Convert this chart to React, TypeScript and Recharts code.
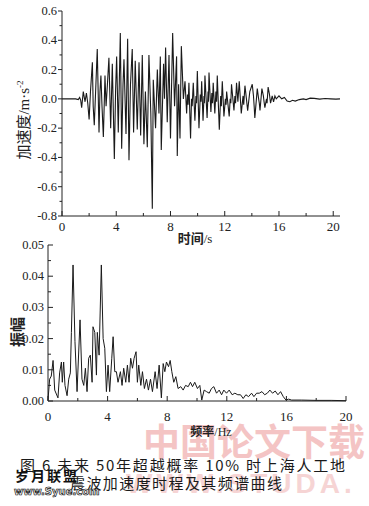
import React from 'react'
import { LineChart, Line, XAxis, YAxis } from 'recharts'

// 加速度时程 (s, m·s^-2)
const TIME_S = [
  0, 0.5, 1.0, 1.2, 1.3, 1.38, 1.45, 1.57, 1.7, 1.8, 1.9, 2.0, 2.1, 2.24, 2.3, 2.38, 2.5, 2.6, 2.73, 2.8,
  2.87, 2.95, 3.05, 3.17, 3.25, 3.35, 3.46, 3.59, 3.71, 3.86, 3.95, 4.03, 4.15, 4.3, 4.4, 4.5, 4.57, 4.72,
  4.84, 4.94, 5.05, 5.18, 5.28, 5.4, 5.55, 5.68, 5.8, 5.92, 6.04, 6.15, 6.29, 6.41, 6.55, 6.66, 6.73, 6.9,
  7.03, 7.15, 7.25, 7.32, 7.49, 7.56, 7.64, 7.76, 7.89, 8.0, 8.16, 8.3, 8.45, 8.5, 8.6, 8.7, 8.8, 8.95,
  9.07, 9.19, 9.25, 9.3, 9.36, 9.48, 9.55, 9.6, 9.68, 9.8, 9.88, 9.92, 9.98, 10.1, 10.2, 10.25, 10.3, 10.4,
  10.47, 10.5, 10.54, 10.7, 10.77, 10.8, 10.84, 10.98, 11.05, 11.1, 11.15, 11.27, 11.35, 11.4, 11.45, 11.6,
  11.7, 11.75, 11.82, 11.94, 12.05, 12.1, 12.14, 12.33, 12.4, 12.45, 12.5, 12.68, 12.75, 12.8, 12.87, 12.97,
  13.07, 13.22, 13.35, 13.4, 13.49, 13.6, 13.69, 13.85, 14.03, 14.12, 14.17, 14.22, 14.4, 14.5, 14.55, 14.6,
  14.74, 14.85, 14.9, 14.96, 15.08, 15.12, 15.2, 15.3, 15.38, 15.5, 15.6, 15.7, 15.8, 16.0, 16.2, 16.4, 16.6,
  16.8, 17.0, 17.2, 17.5, 17.8, 18.0, 18.3, 18.6, 19.0, 19.4, 19.8, 20.2, 20.5,
]
const ACCEL = [
  0, 0, 0, -0.005, 0.01, -0.01, -0.06, 0.05, -0.02, 0.04, -0.03, -0.14, 0.05, 0.25, -0.05, -0.18, 0.1, 0.34, -0.23, 0.05,
  0.16, -0.05, -0.26, 0.16, -0.05, 0.1, 0.28, -0.2, 0.24, -0.41, 0.05, 0.29, -0.23, 0.45, -0.34, 0.1, 0.27, -0.24,
  0.41, -0.42, 0.1, 0.34, -0.23, 0.26, -0.21, 0.25, -0.25, 0.3, -0.31, 0.05, -0.33, 0.3, -0.1, -0.75, 0.13, -0.2,
  0.2, -0.1, 0.29, -0.35, 0.24, 0.0, 0.35, -0.16, 0.3, -0.27, 0.45, -0.05, 0.29, -0.39, 0.1, -0.27, 0.36, 0.0,
  0.12, -0.1, 0.03, -0.04, 0.11, -0.27, 0.0, -0.05, 0.11, -0.15, 0.02, -0.03, 0.19, -0.2, 0.03, -0.02, 0.12, -0.15,
  0.02, -0.03, 0.16, -0.13, 0.05, -0.02, 0.18, -0.09, 0.04, -0.03, 0.11, -0.1, 0.05, -0.02, 0.16, -0.21,
  0.02, -0.05, 0.12, -0.12, 0.0, -0.04, 0.05, -0.12, 0.0, -0.03, 0.1, -0.08, 0.02, -0.03, 0.11, -0.02,
  0.12, -0.1, 0.02, -0.04, 0.09, 0.0, -0.08, 0.05, 0.1, 0.02, -0.05, -0.13, 0.07, 0.0, -0.03, -0.08,
  0.07, 0.02, -0.02, -0.06, 0.0, -0.03, 0.08, 0.03, -0.03, 0.02, -0.02, 0.02, 0.0, 0.02, 0.0, 0.01, -0.015,
  -0.02, -0.01, -0.015, -0.005, 0.0, -0.005, 0.005, 0.003, -0.002, 0.002, 0, -0.002, 0,
]

// 频谱 (Hz, 振幅)
const FREQ_HZ = [
  0, 0.11, 0.22, 0.34, 0.45, 0.67, 0.78, 0.9, 0.96, 1.05, 1.14, 1.28, 1.39, 1.5, 1.57, 1.68, 1.81, 1.95,
  2.15, 2.28, 2.4, 2.51, 2.62, 2.73, 2.84, 2.96, 3.02, 3.14, 3.25, 3.31, 3.43, 3.58, 3.7, 3.81, 3.92,
  4.03, 4.14, 4.28, 4.37, 4.48, 4.59, 4.7, 4.86, 4.97, 5.08, 5.22, 5.33, 5.44, 5.55, 5.67, 5.78, 5.91,
  6.0, 6.09, 6.23, 6.34, 6.47, 6.61, 6.74, 6.88, 7.01, 7.19, 7.32, 7.46, 7.61, 7.73, 7.84, 7.95, 8.09,
  8.2, 8.31, 8.44, 8.58, 8.73, 8.91, 9.07, 9.23, 9.41, 9.56, 9.7, 9.85, 10.03, 10.19, 10.32, 10.48,
  10.64, 10.82, 10.97, 11.13, 11.31, 11.49, 11.65, 11.8, 11.98, 12.16, 12.36, 12.54, 12.74, 12.92,
  13.1, 13.28, 13.46, 13.66, 13.82, 14.0, 14.18, 14.36, 14.54, 14.72, 14.89, 15.07, 15.25, 15.43,
  15.61, 15.79, 15.97, 16.15, 16.35, 17, 18, 19, 20,
]
const AMPL = [
  0.0003, 0.007, 0.008, 0.013, 0.0035, 0.001, 0.009, 0.0125, 0.006, 0.0125, 0.005, 0.0017, 0.007, 0.009, 0.022, 0.0436, 0.019, 0.003,
  0.026, 0.007, 0.005, 0.0105, 0.003, 0.0137, 0.0147, 0.006, 0.0238, 0.022, 0.0083, 0.022, 0.0147, 0.0436, 0.02, 0.0169, 0.003,
  0.0115, 0.003, 0.0137, 0.0206, 0.0094, 0.0094, 0.006, 0.0094, 0.005, 0.0105, 0.006, 0.0115, 0.006, 0.0137, 0.0105, 0.0137, 0.0158,
  0.006, 0.0115, 0.005, 0.0094, 0.004, 0.007, 0.0035, 0.007, 0.003, 0.0094, 0.004, 0.0115, 0.001, 0.012, 0.0094, 0.0125, 0.011,
  0.013, 0.0094, 0.006, 0.0078, 0.004, 0.0046, 0.0035, 0.005, 0.0046, 0.006, 0.0046, 0.006, 0.004, 0.005, 0.0003, 0.0035,
  0.003, 0.0025, 0.004, 0.0046, 0.0025, 0.0035, 0.002, 0.0035, 0.0025, 0.0035, 0.002, 0.0025, 0.002, 0.002,
  0.0008, 0.002, 0.0014, 0.0025, 0.0014, 0.0025, 0.0025, 0.003, 0.002, 0.0025, 0.0035, 0.0025, 0.0032, 0.002,
  0.003, 0.0014, 0.0003, 0.0006, 0.0003, 0.0003, 0.0002, 0.0002, 0.0001,
]

const TIME_TICKS = [0, 2, 4, 6, 8, 10, 12, 14, 16, 18, 20]
const ACCEL_TICKS = [-0.8, -0.7, -0.6, -0.5, -0.4, -0.3, -0.2, -0.1, 0, 0.1, 0.2, 0.3, 0.4, 0.5, 0.6]
const FREQ_TICKS = [0, 2, 4, 6, 8, 10, 12, 14, 16, 18, 20]
const AMPL_TICKS = [0, 0.005, 0.01, 0.015, 0.02, 0.025, 0.03, 0.035, 0.04, 0.045, 0.05]

const accelData = TIME_S.map((t, i) => ({ t, a: ACCEL[i] }))
const specData = FREQ_HZ.map((f, i) => ({ f, amp: AMPL[i] }))

const INK = '#222'
const SERIF = "'Liberation Serif', 'Times New Roman', 'DejaVu Serif', serif"
const CJK = "'Noto Sans CJK SC', sans-serif"
const serifStyle = { fontFamily: SERIF }
const cjkStyle = { fontFamily: CJK }

const isMajorX = (v: number) => Math.round(v) % 4 === 0

// bottom axis tick pointing up into the plot
const bottomTick = (labelDy: number) => (props: any) => {
  const { x, y, payload } = props
  const major = isMajorX(payload.value)
  return (
    <g>
      <line x1={x} y1={y} x2={x} y2={y - (major ? 5 : 3)} stroke={INK} />
      {major && (
        <text x={x} y={y + labelDy} textAnchor="middle" fontSize={13} style={serifStyle} fill={INK}>
          {payload.value}
        </text>
      )}
    </g>
  )
}

const topTick = (props: any) => {
  const { x, y, payload } = props
  const major = isMajorX(payload.value)
  return <line x1={x} y1={y} x2={x} y2={y + (major ? 5 : 3)} stroke={INK} />
}

const accelLeftTick = (props: any) => {
  const { x, y, payload } = props
  const major = Math.round(payload.value * 10) % 2 === 0
  return (
    <g>
      <line x1={x} y1={y} x2={x - (major ? 4 : 2.5)} y2={y} stroke={INK} />
      {major && (
        <text x={x - 5} y={y + 4} textAnchor="end" fontSize={12.5} style={serifStyle} fill={INK}>
          {payload.value.toFixed(1)}
        </text>
      )}
    </g>
  )
}

const ampLeftTick = (props: any) => {
  const { x, y, payload } = props
  const major = Math.round(payload.value * 1000) % 10 === 0
  return (
    <g>
      <line x1={x} y1={y} x2={x + (major ? 5 : 3)} y2={y} stroke={INK} />
      {major && (
        <text x={x - 4} y={y + 4} textAnchor="end" fontSize={12.5} style={serifStyle} fill={INK}>
          {payload.value.toFixed(2)}
        </text>
      )}
    </g>
  )
}

const ampRightTick = (props: any) => {
  const { x, y, payload } = props
  const major = Math.round(payload.value * 1000) % 10 === 0
  return <line x1={x} y1={y} x2={x - (major ? 5 : 3)} y2={y} stroke={INK} />
}

export default function App() {
  return (
    <div style={{ position: 'absolute', left: 0, top: 0, width: 369, height: 506, background: '#fff', overflow: 'hidden' }}>
      <svg width={369} height={506} style={{ position: 'absolute', left: 0, top: 0 }}>
        {/* watermarks */}
        <text x={143} y={456} fontSize={37} fontWeight={700} style={cjkStyle} fill="#f4c4c4">中国论文下载</text>
        <text x={126} y={493} fontSize={28} fontWeight={700} style={{ fontFamily: "'Liberation Sans', sans-serif" }}
          fill="#f6d4d4" letterSpacing={4}>WWW.STUDA.</text>

        {/* axis titles */}
        <text transform="translate(29,120) rotate(-90)" textAnchor="middle" fontSize={15} style={cjkStyle} fill={INK}>
          加速度<tspan style={serifStyle}>/m·s</tspan><tspan style={serifStyle} fontSize={9} dy={-6}>-2</tspan>
        </text>
        <text x={195} y={243} textAnchor="middle" fontSize={13} fontWeight={700} style={cjkStyle} fill={INK}>
          时间<tspan style={serifStyle} fontWeight={400}>/s</tspan>
        </text>
        <text transform="translate(23,332) rotate(-90)" textAnchor="middle" fontSize={15} fontWeight={700} style={cjkStyle} fill={INK}>
          振幅
        </text>
        <text x={211} y={436} textAnchor="middle" fontSize={12} fontWeight={700} style={cjkStyle} fill={INK}>
          频率<tspan style={serifStyle} fontWeight={400}>/Hz</tspan>
        </text>

        {/* caption */}
        <text x={20} y={471} fontSize={15} style={cjkStyle} fill="#1a1a1a" textLength={325} lengthAdjust="spacing">
          图 6  未来 50年超越概率 10% 时上海人工地
        </text>
        <text x={70} y={489} fontSize={15} style={cjkStyle} fill="#1a1a1a" textLength={212} lengthAdjust="spacing">
          震波加速度时程及其频谱曲线
        </text>
        <text x={15} y={481} fontSize={14} fontWeight={700} style={cjkStyle} fill="#111" letterSpacing={2}>岁月联盟</text>
        <text x={14} y={495} fontSize={10} fontWeight={700} style={{ fontFamily: "'DejaVu Sans', sans-serif" }}
          fill="#fff" stroke="#111" strokeWidth={0.7}>www.Syue.com</text>
      </svg>

      <div style={{ position: 'absolute', left: 0, top: 0 }}>
        <LineChart width={369} height={240} data={accelData} margin={{ top: 11, right: 29, bottom: 0, left: 0 }}>
          <XAxis
            type="number"
            dataKey="t"
            domain={[0, 20.5]}
            ticks={TIME_TICKS}
            interval={0}
            height={24}
            tickSize={0}
            tickMargin={0}
            tickLine={false}
            axisLine={{ stroke: INK }}
            tick={bottomTick(15)}
          />
          <YAxis
            type="number"
            domain={[-0.8, 0.6]}
            ticks={ACCEL_TICKS}
            interval={0}
            width={62}
            tickSize={0}
            tickMargin={0}
            tickLine={false}
            axisLine={{ stroke: INK }}
            tick={accelLeftTick}
          />
          <Line type="linear" dataKey="a" stroke="#1a1a1a" strokeWidth={1.1} dot={false} isAnimationActive={false} />
        </LineChart>
      </div>

      <div style={{ position: 'absolute', left: 0, top: 230 }}>
        <LineChart width={369} height={205} data={specData} margin={{ top: 15, right: 23, bottom: 0, left: 0 }}>
          <XAxis
            xAxisId="b"
            type="number"
            dataKey="f"
            domain={[0, 20]}
            ticks={FREQ_TICKS}
            interval={0}
            height={34}
            tickSize={0}
            tickMargin={0}
            tickLine={false}
            axisLine={{ stroke: INK }}
            tick={bottomTick(20)}
          />
          <XAxis
            xAxisId="t"
            orientation="top"
            type="number"
            dataKey="f"
            domain={[0, 20]}
            ticks={FREQ_TICKS}
            interval={0}
            height={0}
            tickSize={0}
            tickMargin={0}
            tickLine={false}
            axisLine={{ stroke: INK }}
            tick={topTick}
          />
          <YAxis
            yAxisId="l"
            type="number"
            domain={[0, 0.05]}
            ticks={AMPL_TICKS}
            interval={0}
            width={48}
            tickSize={0}
            tickMargin={0}
            tickLine={false}
            axisLine={{ stroke: INK }}
            tick={ampLeftTick}
          />
          <YAxis
            yAxisId="r"
            orientation="right"
            type="number"
            domain={[0, 0.05]}
            ticks={AMPL_TICKS}
            interval={0}
            width={0}
            tickSize={0}
            tickMargin={0}
            tickLine={false}
            axisLine={{ stroke: INK }}
            tick={ampRightTick}
          />
          <Line xAxisId="b" yAxisId="l" type="linear" dataKey="amp" stroke="#1a1a1a" strokeWidth={1}
            dot={false} isAnimationActive={false} />
        </LineChart>
      </div>
    </div>
  )
}
